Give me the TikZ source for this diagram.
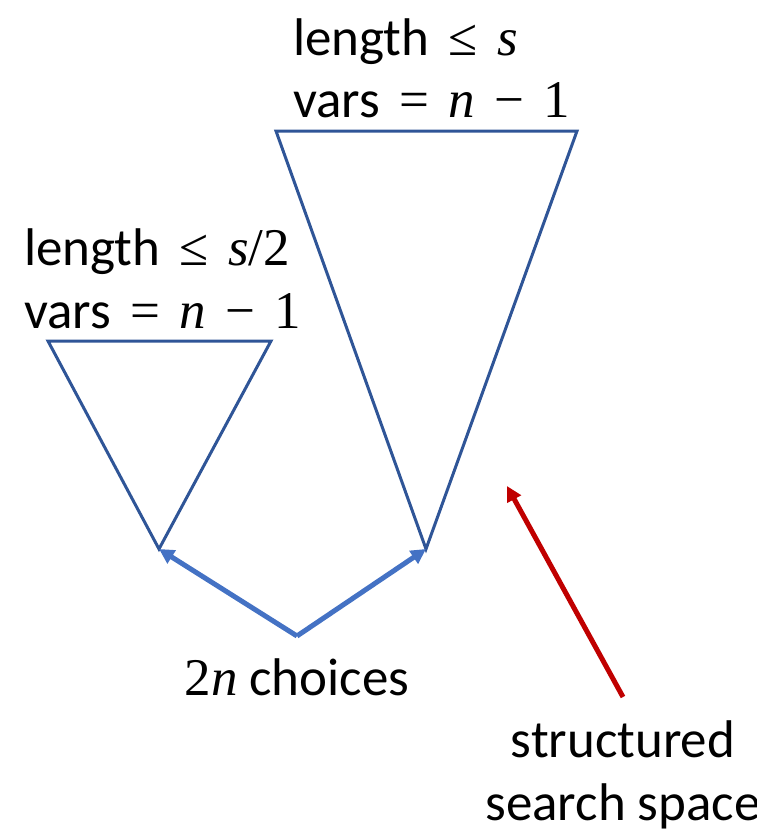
\documentclass[tikz,border=0pt]{standalone}
\usepackage{fontspec}
\setmainfont{Carlito}
\newfontfamily\mvarfont{Liberation Serif}
\newcommand{\mv}[1]{{\mvarfont\itshape #1}}
\newcommand{\mr}[1]{{\mvarfont #1}}
\newcommand{\op}[1]{\hspace{0.14em}{\mvarfont #1}\hspace{0.14em}}
\usetikzlibrary{arrows.meta}
\definecolor{triblue}{HTML}{2F5597}
\definecolor{arrblue}{HTML}{4472C4}
\definecolor{arrred}{HTML}{C00000}
\begin{document}
\begin{tikzpicture}[x=1pt,y=-1pt,
  tri/.style={draw=triblue,line width=3,line join=miter},
  barrow/.style={draw=arrblue,line width=5,-{Triangle[length=15,width=15]}},
  rarrow/.style={draw=arrred,line width=5,-{Triangle[length=15,width=15]}},
  lbl/.style={inner sep=0,font=\fontsize{53}{64}\selectfont}]
\useasboundingbox (0,0) rectangle (756,836);
% coordinates
\coordinate (bigTL) at (276,131);
\coordinate (bigTR) at (577,131);
\coordinate (bigB) at (426,549);
\coordinate (smTL) at (48,341);
\coordinate (smTR) at (271,341);
\coordinate (smB) at (159,549);
\coordinate (choice) at (297,636);
\coordinate (redS) at (623,697);
\coordinate (redE) at (507,486);
% triangles
\draw[tri] (bigTL) -- (bigTR) -- (bigB) -- cycle;
\draw[tri] (smTL) -- (smTR) -- (smB) -- cycle;
% arrows
\draw[barrow] (choice) -- (smB);
\draw[barrow] (choice) -- (bigB);
\draw[rarrow] (redS) -- (redE);
% labels
\node[lbl,anchor=base west] (t1) at (293,55) {length \op{≤} \mv{s}};
\node[lbl,anchor=base west] (t2) at (293,117) {vars \op{=} \mv{n} \op{−} \mr{1}};
\node[lbl,anchor=base west] (l1) at (24,265) {length \op{≤} \mv{s}\mr{/2}};
\node[lbl,anchor=base west] (l2) at (24,328) {vars \op{=} \mv{n} \op{−} \mr{1}};
\node[lbl,anchor=base] (c) at (297,695) {\mr{2}\mv{n} choices};
\node[lbl,anchor=base] (s1) at (623,757) {structured};
\node[lbl,anchor=base] (s2) at (623,820) {search space};
\end{tikzpicture}
\end{document}
